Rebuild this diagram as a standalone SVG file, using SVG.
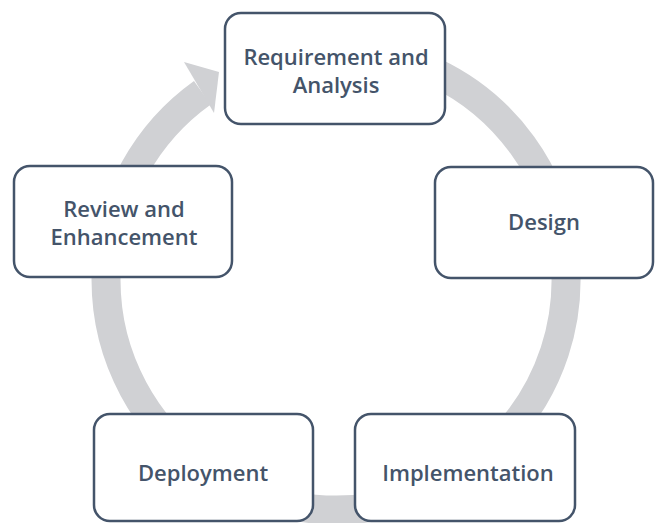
<svg xmlns="http://www.w3.org/2000/svg" width="657" height="523" viewBox="0 0 657 523">
  <style>
    .box { fill: #ffffff; stroke: #44546A; stroke-width: 2.5; }
    .label { font-family: "Open Sans", "Liberation Sans", sans-serif; font-weight: 600; font-size: 22px; fill: #44546A; text-anchor: middle; }
    .ring { fill: none; stroke: #D0D1D4; stroke-width: 29; }
    .head { fill: #D0D1D4; }
  </style>
  <rect width="657" height="523" fill="#ffffff"/>

  <!-- cycle arrow running clockwise behind the stages -->
  <g id="connectors">
    <path class="ring" d="M 336 50 A 230 230 0 1 1 202.4 92.8"/>
    <polygon class="head" points="184,62 219,72 214,113"/>
  </g>

  <g id="requirement">
    <rect class="box" x="225" y="13" width="220" height="111" rx="16"/>
    <text class="label" x="336" y="65">Requirement and</text>
    <text class="label" x="336" y="93">Analysis</text>
  </g>

  <g id="design">
    <rect class="box" x="435" y="167" width="218" height="111" rx="16"/>
    <text class="label" x="544" y="230">Design</text>
  </g>

  <g id="implementation">
    <rect class="box" x="355" y="414" width="220" height="107" rx="16"/>
    <text class="label" x="468" y="481">Implementation</text>
  </g>

  <g id="deployment">
    <rect class="box" x="94" y="414" width="219" height="107" rx="16"/>
    <text class="label" x="203" y="481">Deployment</text>
  </g>

  <g id="review">
    <rect class="box" x="14" y="166" width="218" height="111" rx="16"/>
    <text class="label" x="124" y="217">Review and</text>
    <text class="label" x="124" y="245">Enhancement</text>
  </g>
</svg>
